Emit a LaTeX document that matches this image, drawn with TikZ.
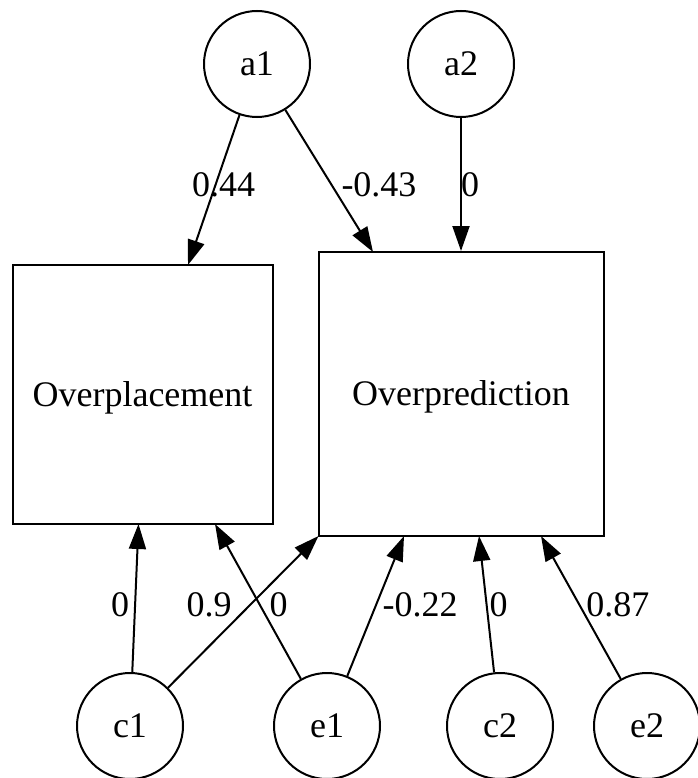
\documentclass[tikz,border=0pt]{standalone}
\usepackage{fontspec}
\setmainfont{Liberation Serif}
\usetikzlibrary{arrows.meta}
\begin{document}
\begin{tikzpicture}[x=1pt,y=-1pt,
  every node/.style={font=\fontsize{36}{42}\selectfont},
  lat/.style={draw, circle, line width=2pt, minimum size=106pt, inner sep=0pt},
  obs/.style={draw, rectangle, line width=2pt, inner sep=0pt, text height=23.8pt, text depth=0pt},
  arr/.style={line width=2pt, -{Triangle[length=25pt,width=17pt]}},
  lbl/.style={inner sep=0pt}]
\useasboundingbox (0,0) rectangle (697,778);
% latent nodes
\node[lat] (a1) at (257,64) {a1};
\node[lat] (a2) at (461,64) {a2};
\node[lat] (c1) at (130,726) {c1};
\node[lat] (e1) at (327,726) {e1};
\node[lat] (c2) at (500,726) {c2};
\node[lat] (e2) at (647,726) {e2};
% observed nodes
\node[obs, minimum width=260pt, minimum height=259pt] (opl) at (142.5,394.5) {Overplacement};
\node[obs, minimum width=285pt, minimum height=284pt] (opr) at (461,394) {Overprediction};
% connector end points on the boxes
\coordinate (oplA1) at (188,265);
\coordinate (oplC1) at (138.5,524);
\coordinate (oplE1) at (215,524);
\coordinate (oprA1) at (373,252);
\coordinate (oprC1) at (318.5,536);
\coordinate (oprE1) at (404,536);
\coordinate (oprC2) at (479,536);
\coordinate (oprE2) at (541,536);
% connectors
\draw[arr] (a1) -- (oplA1);
\draw[arr] (a1) -- (oprA1);
\draw[arr] (a2) -- (opr.north);
\draw[arr] (c1) -- (oplC1);
\draw[arr] (c1) -- (oprC1);
\draw[arr] (e1) -- (oplE1);
\draw[arr] (e1) -- (oprE1);
\draw[arr] (c2) -- (oprC2);
\draw[arr] (e2) -- (oprE2);
% labels
\node[lbl] (l1) at (223.6,185) {0.44};
\node[lbl] (l2) at (379,185) {-0.43};
\node[lbl] (l3) at (470,185) {0};
\node[lbl] (l4) at (120,605) {0};
\node[lbl] (l5) at (209,605) {0.9};
\node[lbl] (l6) at (278.7,605) {0};
\node[lbl] (l7) at (420,605) {-0.22};
\node[lbl] (l8) at (498.7,605) {0};
\node[lbl] (l9) at (617.8,605) {0.87};
\end{tikzpicture}
\end{document}
